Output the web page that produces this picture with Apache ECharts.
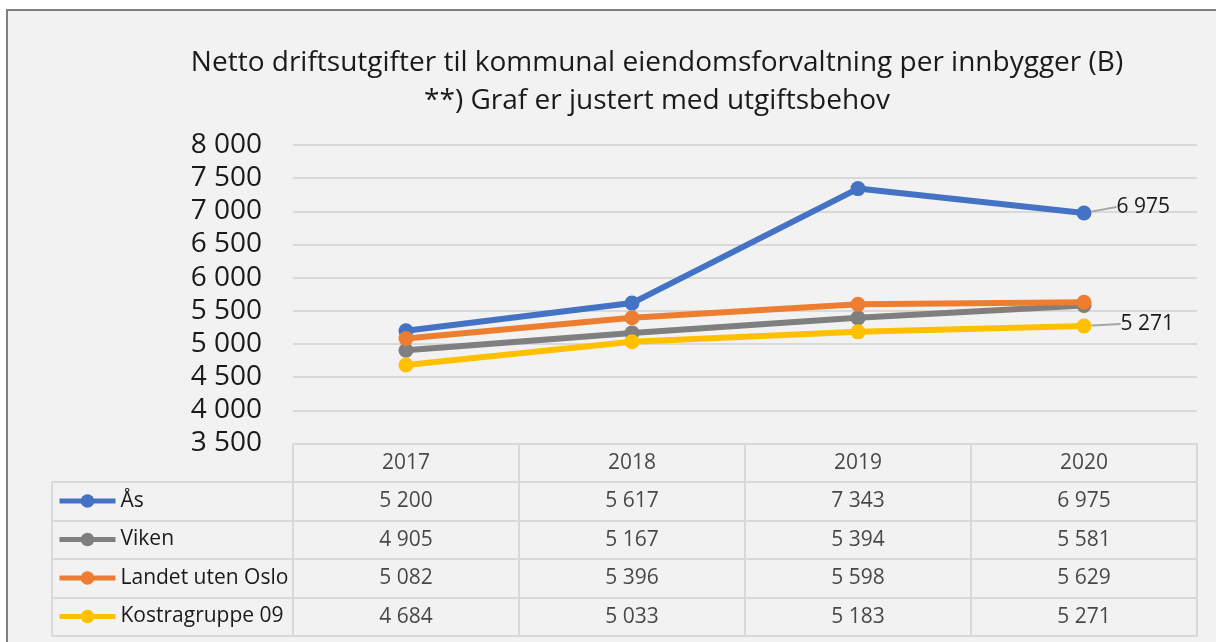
<!DOCTYPE html>
<html>
<head>
<meta charset="utf-8">
<script src="https://cdn.jsdelivr.net/npm/echarts@6/dist/echarts.min.js"></script>
<style>
  html, body { margin: 0; padding: 0; background: #ffffff; }
  #chart { width: 1216px; height: 642px; }
</style>
</head>
<body>
<div id="chart"></div>
<script>
// Years on the category axis
const years = ['2017', '2018', '2019', '2020'];

// Net operating expenditure per inhabitant (NOK)
const seriesNames = ['Ås', 'Viken', 'Landet uten Oslo', 'Kostragruppe 09'];
const aas = [5200, 5617, 7343, 6975];
const viken = [4905, 5167, 5394, 5581];
const landetUtenOslo = [5082, 5396, 5598, 5629];
const kostragruppe09 = [4684, 5033, 5183, 5271];

// Value-axis range
const yMin = 3500;
const yMax = 8000;
const yStep = 500;

const allValues = [aas, viken, landetUtenOslo, kostragruppe09];
const colors = ['#4472C4', '#7F7F7F', '#ED7D31', '#FFC000'];

const FONT = '"Open Sans", "Noto Sans", sans-serif';
const TEXT = '#1a1a1a';
const RULE = '#d9d9d9';

// Norwegian thousands grouping: 6975 -> "6 975"
function fmt(v) {
  return String(Math.round(v)).replace(/\B(?=(\d{3})+(?!\d))/g, ' ');
}

// Only the last point of Ås and Kostragruppe 09 carries a value label,
// nudged to the right with a short leader line
const labelShift = {
  0: { dx: 3, dy: -6, pad: 17 },
  3: { dx: 6, dy: -2, pad: 18 }
};

const lineSeries = seriesNames.map((name, s) => ({
  name: name,
  type: 'line',
  xAxisIndex: 0,
  yAxisIndex: 0,
  data: allValues[s].map((v, i) => {
    const isLast = i === allValues[s].length - 1;
    if (isLast && labelShift[s]) {
      return {
        value: v,
        label: {
          show: true,
          position: 'right',
          distance: 5,
          padding: [0, 0, 0, labelShift[s].pad],
          formatter: p => fmt(p.value),
          fontFamily: FONT,
          fontSize: 21,
          color: TEXT
        },
        labelLine: {
          show: true,
          lineStyle: { color: '#a6a6a6', width: 2 }
        }
      };
    }
    return v;
  }),
  labelLayout: labelShift[s]
    ? () => ({ dx: labelShift[s].dx, dy: labelShift[s].dy })
    : undefined,
  symbol: 'circle',
  symbolSize: 15,
  lineStyle: { width: 6, color: colors[s] },
  itemStyle: { color: colors[s] },
  emphasis: { disabled: true },
  z: 3 + s
}));

// Data table below the plot: header row (years) + one row per series
const tableCells = [];
years.forEach((y, i) => {
  tableCells.push([i, 0, y]);
  allValues.forEach((vals, s) => tableCells.push([i, s + 1, fmt(vals[i])]));
});
const tableRows = ['', ...seriesNames];

const option = {
  backgroundColor: '#f2f2f2',
  animation: false,
  title: {
    text: 'Netto driftsutgifter til kommunal eiendomsforvaltning per innbygger (B)\n**) Graf er justert med utgiftsbehov',
    left: 652,
    textAlign: 'center',
    top: 39,
    textStyle: {
      fontFamily: FONT,
      fontSize: 28,
      fontWeight: 'normal',
      color: TEXT,
      lineHeight: 38
    }
  },
  legend: {
    orient: 'vertical',
    left: 57,
    top: 490.5,
    padding: 0,
    itemWidth: 56,
    itemHeight: 17,
    itemGap: 17.5,
    selectedMode: false,
    data: seriesNames,
    lineStyle: { width: 5 },
    textStyle: { fontFamily: FONT, fontSize: 21, color: TEXT, lineHeight: 17 }
  },
  grid: [
    // line plot
    { left: 293, right: 19, top: 145, bottom: 198.5 },
    // value cells of the table
    { left: 293, right: 19, top: 443.5, bottom: 6 },
    // series-name column of the table
    { left: 52, width: 241, top: 482, bottom: 6 }
  ],
  xAxis: [
    {
      gridIndex: 0,
      type: 'category',
      data: years,
      boundaryGap: true,
      axisLine: { show: false },
      axisTick: { show: false },
      axisLabel: { show: false }
    },
    {
      gridIndex: 1,
      type: 'category',
      data: years,
      boundaryGap: true,
      axisLine: { show: false },
      axisTick: { show: false },
      axisLabel: { show: false },
      splitLine: { show: true, lineStyle: { color: RULE, width: 2 } }
    },
    {
      gridIndex: 2,
      type: 'category',
      data: [''],
      boundaryGap: true,
      axisLine: { show: false },
      axisTick: { show: false },
      axisLabel: { show: false },
      splitLine: { show: true, lineStyle: { color: RULE, width: 2 } }
    }
  ],
  yAxis: [
    {
      gridIndex: 0,
      type: 'value',
      min: yMin,
      max: yMax,
      interval: yStep,
      axisLine: { show: false },
      axisTick: { show: false },
      axisLabel: {
        formatter: v => fmt(v),
        fontFamily: FONT,
        fontSize: 28,
        color: TEXT,
        margin: 31
      },
      splitLine: { lineStyle: { color: RULE, width: 2 } }
    },
    {
      gridIndex: 1,
      type: 'category',
      data: tableRows,
      inverse: true,
      boundaryGap: true,
      axisLine: { show: false },
      axisTick: { show: false },
      axisLabel: { show: false },
      splitLine: { show: true, lineStyle: { color: RULE, width: 2 } }
    },
    {
      gridIndex: 2,
      type: 'category',
      data: seriesNames,
      inverse: true,
      boundaryGap: true,
      axisLine: { show: false },
      axisTick: { show: false },
      axisLabel: { show: false },
      splitLine: { show: true, lineStyle: { color: RULE, width: 2 } }
    }
  ],
  series: [
    ...lineSeries,
    {
      name: 'table',
      type: 'scatter',
      xAxisIndex: 1,
      yAxisIndex: 1,
      data: tableCells,
      symbolSize: 0,
      silent: true,
      label: {
        show: true,
        position: 'inside',
        formatter: p => p.value[2],
        fontFamily: FONT,
        fontSize: 21,
        color: TEXT
      }
    }
  ],
  graphic: [
    // frame around the chart area
    { type: 'rect', shape: { x: 0, y: 0, width: 1216, height: 9 }, style: { fill: '#ffffff' }, silent: true },
    { type: 'rect', shape: { x: 0, y: 0, width: 6, height: 642 }, style: { fill: '#ffffff' }, silent: true },
    { type: 'rect', shape: { x: 6, y: 9, width: 1210, height: 2 }, style: { fill: '#7f7f7f' }, silent: true },
    { type: 'rect', shape: { x: 6, y: 9, width: 2, height: 633 }, style: { fill: '#7f7f7f' }, silent: true }
  ]
};

const chart = echarts.init(document.getElementById('chart'), null, { renderer: 'canvas' });
chart.setOption(option);
</script>
</body>
</html>
